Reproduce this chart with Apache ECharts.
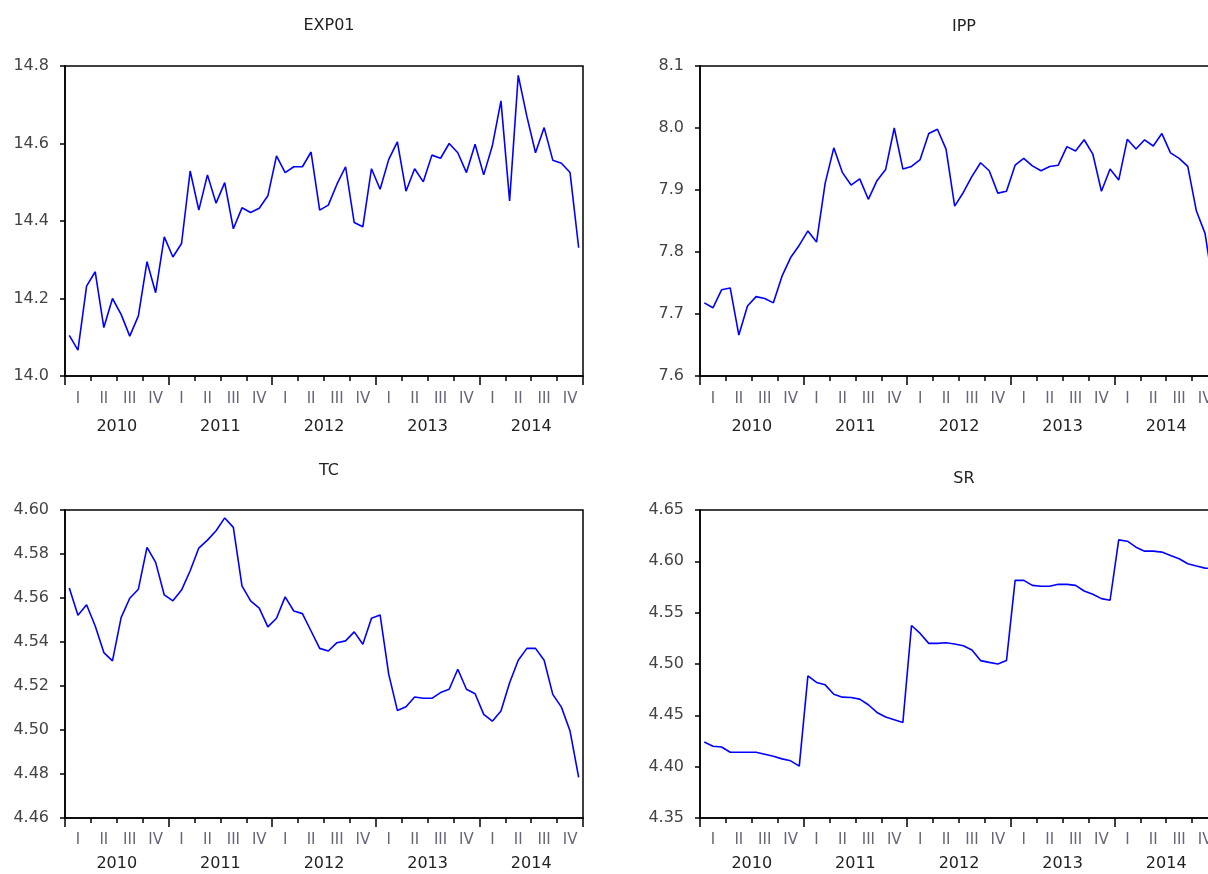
<!DOCTYPE html>
<html>
<head>
<meta charset="utf-8">
<title>EXP01 / IPP / TC / SR</title>
<script src="https://cdn.jsdelivr.net/npm/echarts@6/dist/echarts.min.js"></script>
<style>
    html, body { margin: 0; padding: 0; background: #fff; }
    #chart { width: 1208px; height: 874px; }
</style>
</head>
<body>
<div id="chart"></div>
<script>
// axis labels
const years = ['2010', '2011', '2012', '2013', '2014']
const quarterNames = ['I', 'II', 'III', 'IV']
const quarters = years.flatMap(() => quarterNames)
const months = years.flatMap(y => ['01', '02', '03', '04', '05', '06', '07', '08', '09', '10', '11', '12'].map(m => y + 'M' + m))

// monthly series, 2010M01 - 2014M12
const exp01 = [
    14.105, 14.067, 14.232, 14.269, 14.125, 14.200, 14.159, 14.103, 14.155, 14.295, 14.215, 14.359,
    14.307, 14.342, 14.529, 14.428, 14.519, 14.446, 14.499, 14.380, 14.434, 14.422, 14.433, 14.465,
    14.568, 14.525, 14.540, 14.540, 14.578, 14.428, 14.441, 14.495, 14.540, 14.396, 14.385, 14.535,
    14.482, 14.559, 14.604, 14.477, 14.535, 14.501, 14.570, 14.562, 14.600, 14.576, 14.525, 14.598,
    14.519, 14.594, 14.710, 14.452, 14.776, 14.670, 14.576, 14.641, 14.557, 14.549, 14.525, 14.331
]
const ipp = [
    7.718, 7.710, 7.739, 7.742, 7.666, 7.713, 7.728, 7.725, 7.718, 7.761, 7.791, 7.811,
    7.834, 7.816, 7.911, 7.968, 7.928, 7.908, 7.918, 7.885, 7.915, 7.933, 8.000, 7.934,
    7.938, 7.949, 7.991, 7.998, 7.966, 7.874, 7.896, 7.922, 7.944, 7.931, 7.895, 7.898,
    7.940, 7.951, 7.939, 7.931, 7.938, 7.940, 7.970, 7.963, 7.981, 7.958, 7.898, 7.934,
    7.916, 7.982, 7.966, 7.981, 7.971, 7.991, 7.960, 7.951, 7.938, 7.866, 7.830, 7.740
]
const tc = [
    4.5645, 4.5522, 4.5569, 4.5473, 4.5352, 4.5314, 4.5511, 4.5599, 4.5640, 4.5830, 4.5762, 4.5614,
    4.5587, 4.5636, 4.5724, 4.5827, 4.5863, 4.5906, 4.5964, 4.5921, 4.5655, 4.5587, 4.5554, 4.5469,
    4.5508, 4.5605, 4.5541, 4.5529, 4.5450, 4.5371, 4.5359, 4.5397, 4.5405, 4.5446, 4.5390, 4.5508,
    4.5523, 4.5253, 4.5089, 4.5106, 4.5150, 4.5144, 4.5144, 4.5170, 4.5185, 4.5276, 4.5185, 4.5165,
    4.5071, 4.5040, 4.5086, 4.5215, 4.5317, 4.5371, 4.5371, 4.5317, 4.5162, 4.5104, 4.4995, 4.4785
]
const sr = [
    4.4241, 4.4199, 4.4192, 4.4140, 4.4140, 4.4140, 4.4140, 4.4121, 4.4102, 4.4076, 4.4057, 4.4005,
    4.4884, 4.4820, 4.4797, 4.4706, 4.4677, 4.4674, 4.4658, 4.4603, 4.4528, 4.4483, 4.4457, 4.4431,
    4.5375, 4.5298, 4.5201, 4.5201, 4.5207, 4.5194, 4.5178, 4.5136, 4.5033, 4.5016, 4.5000, 4.5033,
    4.5815, 4.5815, 4.5766, 4.5757, 4.5757, 4.5776, 4.5776, 4.5766, 4.5711, 4.5679, 4.5637, 4.5621,
    4.6209, 4.6196, 4.6138, 4.6099, 4.6099, 4.6090, 4.6057, 4.6025, 4.5976, 4.5954, 4.5934, 4.5930
]

// panel placement: the right column runs past the page edge, as in the original export
const panels = [
    { name: 'EXP01', data: exp01, min: 14.0, max: 14.8, interval: 0.2, digits: 1, left: 65, top: 66, height: 310, titleTop: 13, qMargin: 16, yMargin: 43 },
    { name: 'IPP', data: ipp, min: 7.6, max: 8.1, interval: 0.1, digits: 1, left: 700, top: 66, height: 310, titleTop: 14, qMargin: 16, yMargin: 43 },
    { name: 'TC', data: tc, min: 4.46, max: 4.60, interval: 0.02, digits: 2, left: 65, top: 510, height: 308, titleTop: 458, qMargin: 15, yMargin: 38 },
    { name: 'SR', data: sr, min: 4.35, max: 4.65, interval: 0.05, digits: 2, left: 700, top: 510, height: 308, titleTop: 466, qMargin: 15, yMargin: 38 }
]
const plotWidth = 518
const font = 'DejaVu Sans, Verdana, sans-serif'

const option = {
    animation: false,
    backgroundColor: '#fff',
    title: [],
    grid: [],
    xAxis: [],
    yAxis: [],
    series: []
}

panels.forEach((p, g) => {
    option.title.push({
        text: p.name,
        left: p.left + plotWidth / 2,
        top: p.titleTop,
        textAlign: 'center',
        textStyle: { fontFamily: font, fontSize: 16, fontWeight: 'normal', color: '#222' }
    })
    option.grid.push({
        left: p.left, top: p.top, width: plotWidth, height: p.height,
        outerBoundsMode: 'none', containLabel: false,
        show: true, borderColor: '#000', borderWidth: 1.5, backgroundColor: 'transparent'
    })
    // month axis carries the line
    option.xAxis.push({
        type: 'category', gridIndex: g, data: months, boundaryGap: true,
        axisLine: { show: true, onZero: false, lineStyle: { color: '#000', width: 1.5 } },
        axisTick: { show: false }, axisLabel: { show: false }, splitLine: { show: false }
    })
    // quarter ticks and labels
    option.xAxis.push({
        type: 'category', gridIndex: g, data: quarters, boundaryGap: true, position: 'bottom',
        axisLine: { show: false },
        axisTick: { show: true, interval: 0, length: 5, lineStyle: { color: '#000', width: 1.5 } },
        axisLabel: { interval: 0, margin: p.qMargin, fontFamily: font, fontSize: 15, color: '#66667a' },
        splitLine: { show: false }
    })
    // year ticks and labels
    option.xAxis.push({
        type: 'category', gridIndex: g, data: years, boundaryGap: true, position: 'bottom',
        axisLine: { show: false },
        axisTick: { show: true, interval: 0, length: 9, lineStyle: { color: '#000', width: 1.5 } },
        axisLabel: { interval: 0, margin: p.yMargin, fontFamily: font, fontSize: 16, color: '#222' },
        splitLine: { show: false }
    })
    option.yAxis.push({
        type: 'value', gridIndex: g, min: p.min, max: p.max, interval: p.interval,
        axisLine: { show: true, lineStyle: { color: '#000', width: 1.5 } },
        axisTick: { show: true, length: 5, lineStyle: { color: '#000', width: 1.5 } },
        axisLabel: {
            margin: 16, fontFamily: font, fontSize: 16, color: '#444',
            formatter: v => v.toFixed(p.digits)
        },
        splitLine: { show: false }
    })
    option.series.push({
        type: 'line', name: p.name, data: p.data,
        xAxisIndex: g * 3, yAxisIndex: g,
        symbol: 'none', smooth: false,
        lineStyle: { color: '#0000ff', width: 1.6 }
    })
})

const chart = echarts.init(document.getElementById('chart'), null, { renderer: 'canvas' })
chart.setOption(option)
window.addEventListener('resize', () => chart.resize())
</script>
</body>
</html>
